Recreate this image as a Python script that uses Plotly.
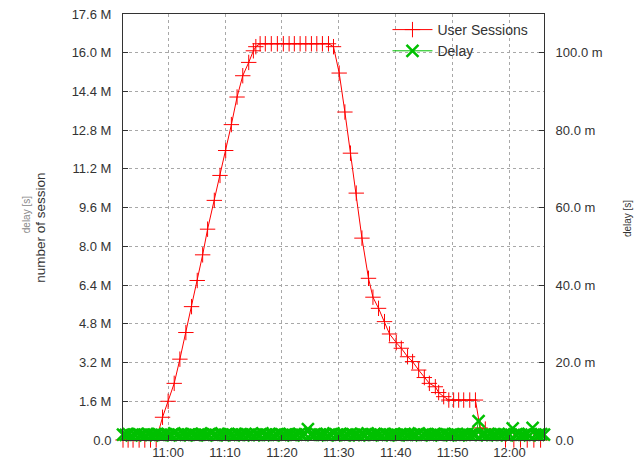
import plotly.graph_objects as go
import pandas as pd

DAY = "2024-01-01 "

# ---- User Sessions (time of day, value in millions) ----
session_times = [
    "10:52:04", "10:52:58", "10:53:50", "10:54:54", "10:55:54", "10:56:54", "10:57:54",
    "10:59:01", "11:00:00", "11:01:04", "11:02:04", "11:03:07", "11:04:07", "11:05:07",
    "11:06:04", "11:06:56", "11:08:07", "11:09:07", "11:10:07", "11:11:07", "11:12:07",
    "11:13:07", "11:14:10", "11:14:59", "11:15:25", "11:16:10",
    "11:17:05", "11:18:08", "11:19:12", "11:20:15", "11:21:16", "11:22:11", "11:23:12",
    "11:24:12", "11:25:11", "11:26:08", "11:27:07", "11:28:11",
    "11:29:04", "11:30:04", "11:31:04", "11:32:03", "11:33:04", "11:34:04", "11:35:13",
    "11:36:00", "11:36:59", "11:38:02", "11:38:55", "11:40:06", "11:40:59", "11:42:05",
    "11:42:58", "11:44:02", "11:45:02", "11:45:55", "11:46:58", "11:47:33", "11:48:26",
    "11:49:20", "11:50:11", "11:51:04", "11:51:57", "11:53:01", "11:54:01",
    "11:54:50", "11:55:45",
    "11:59:18", "12:00:46", "12:01:56", "12:03:07", "12:04:17", "12:05:28",
]
session_values_m = [
    0, 0, 0, 0, 0, 0, 0,
    0.94, 1.60, 2.34, 3.34, 4.44, 5.51, 6.59,
    7.65, 8.71, 9.90, 10.93, 11.96, 13.03, 14.17,
    15.05, 15.60, 16.08, 16.25, 16.37,
    16.37, 16.37, 16.37, 16.37, 16.37, 16.37, 16.37,
    16.37, 16.37, 16.37, 16.37, 16.37,
    16.25, 15.16, 13.55, 11.85, 10.20, 8.34, 6.68,
    5.90, 5.44, 4.89, 4.38, 4.02, 3.79, 3.44,
    3.24, 2.89, 2.58, 2.34, 2.20, 1.96, 1.79,
    1.65, 1.65, 1.65, 1.65, 1.65, 1.65,
    0.50, 0.45,
    0, 0, 0, 0, 0, 0,
]

# ---- Delay (sampled every 30 s from 10:52:04, value in milliseconds) ----
delay_start = "10:52:04"
delay_step_s = 30
delay_values_ms = [
    1.4, 1.3, 1.5, 1.2, 1.4, 1.6, 1.3, 1.4, 1.2, 1.5,
    1.3, 1.4, 1.6, 1.3, 1.2, 1.5, 1.4, 1.3, 1.7, 1.4,
    1.2, 1.5, 1.3, 1.4, 1.6, 1.3, 1.2, 1.4, 1.5, 1.3,
    1.4, 1.7, 1.3, 1.2, 1.5, 1.4, 1.3, 1.6, 1.4, 1.2,
    1.5, 1.3, 1.4, 1.6, 1.3, 1.5, 1.2, 1.4, 1.3, 1.7,
    1.4, 1.3, 1.5, 1.2, 1.4, 1.6, 1.3, 1.4, 1.5, 1.3,
    1.2, 1.4, 1.6, 1.3, 1.5, 2.8, 1.4, 1.3, 1.6, 1.4,
    1.3, 1.5, 1.2, 1.4, 1.7, 1.3, 1.4, 1.5, 1.2, 1.4,
    1.6, 1.3, 1.4, 1.2, 1.5, 1.3, 1.7, 1.4, 1.3, 1.5,
    1.4, 1.2, 1.6, 1.3, 1.4, 1.5, 1.3, 1.2, 1.4, 1.6,
    1.3, 1.5, 1.4, 1.3, 1.7, 1.2, 1.4, 1.5, 1.3, 1.4,
    1.5, 1.3, 1.2, 1.6, 1.4, 1.3, 1.5, 1.4, 1.2, 1.3,
    1.4, 1.6, 1.3, 1.5, 1.4, 4.9, 1.3, 1.4, 1.2, 1.5,
    1.3, 1.4, 1.6, 1.3, 1.5, 1.2, 1.4, 3.0, 1.3, 1.6,
    1.4, 1.3, 1.5, 1.2, 3.1, 1.4, 1.3, 1.5, 1.4,
]

# ---- Axis ticks ----
x_tick_labels = ["11:00", "11:10", "11:20", "11:30", "11:40", "11:50", "12:00"]
x_range = ["10:52:04", "12:06:04"]
left_tick_vals_m = [0, 1.6, 3.2, 4.8, 6.4, 8.0, 9.6, 11.2, 12.8, 14.4, 16.0, 17.6]
left_tick_text = ["0.0", "1.6 M", "3.2 M", "4.8 M", "6.4 M", "8.0 M", "9.6 M",
                  "11.2 M", "12.8 M", "14.4 M", "16.0 M", "17.6 M"]
right_tick_vals_ms = [0, 20, 40, 60, 80, 100]
right_tick_text = ["0.0", "20.0 m", "40.0 m", "60.0 m", "80.0 m", "100.0 m"]
right_max_ms = 110

FONT = "Liberation Sans, Arial, Helvetica, sans-serif"
AXIS_COLOR = "#333333"
GRID_COLOR = "#a8a8a8"

s_x = pd.to_datetime([DAY + t for t in session_times])
s_y = [v * 1e6 for v in session_values_m]
d_x = pd.date_range(DAY + delay_start, periods=len(delay_values_ms), freq=f"{delay_step_s}s")
d_y = [v / 1000 for v in delay_values_ms]

fig = go.Figure()
fig.add_trace(go.Scatter(
    x=s_x, y=s_y, name="User Sessions", mode="lines+markers",
    line=dict(color="#ff0000", width=1),
    marker=dict(symbol="cross-thin", size=11, color="#ff0000",
                line=dict(color="#ff0000", width=1)),
    cliponaxis=False,
))
fig.add_trace(go.Scatter(
    x=d_x, y=d_y, name="Delay", mode="lines+markers", yaxis="y2",
    line=dict(color="#00c000", width=1),
    marker=dict(symbol="x-thin", size=12, color="#00c000",
                line=dict(color="#00c000", width=2.5)),
    cliponaxis=False,
))

fig.update_layout(
    width=634, height=456,
    margin=dict(l=115, r=98, t=6, b=24, autoexpand=False),
    paper_bgcolor="white", plot_bgcolor="white",
    font=dict(family=FONT, size=13, color=AXIS_COLOR),
    showlegend=True,
    legend=dict(x=0.975, y=1.0, xanchor="right", yanchor="top",
                bgcolor="rgba(0,0,0,0)", font=dict(size=14, color="#333333"),
                tracegroupgap=0, itemwidth=40),
    xaxis=dict(
        type="date", range=[DAY + x_range[0], DAY + x_range[1]],
        tickvals=[DAY + t for t in x_tick_labels], ticktext=x_tick_labels,
        showgrid=True, gridcolor=GRID_COLOR, griddash="dot", gridwidth=1,
        showline=True, linecolor=AXIS_COLOR, linewidth=1, mirror=True,
        ticks="inside", ticklen=5, tickcolor=AXIS_COLOR, zeroline=False,
        tickfont=dict(size=13), automargin=False, ticklabeloverflow="allow",
    ),
    yaxis=dict(
        range=[0, 17.6e6],
        tickvals=[v * 1e6 for v in left_tick_vals_m], ticktext=left_tick_text,
        showgrid=True, gridcolor=GRID_COLOR, griddash="dot", gridwidth=1,
        showline=True, linecolor=AXIS_COLOR, linewidth=1, mirror=True,
        ticks="inside", ticklen=5, tickcolor=AXIS_COLOR, zeroline=False,
        ticklabelstandoff=8, tickfont=dict(size=13), automargin=False,
        ticklabeloverflow="allow",
    ),
    yaxis2=dict(
        overlaying="y", side="right", range=[0, right_max_ms / 1000],
        tickvals=[v / 1000 for v in right_tick_vals_ms], ticktext=right_tick_text,
        showgrid=False, showline=True, linecolor=AXIS_COLOR, linewidth=1,
        ticks="inside", ticklen=5, tickcolor=AXIS_COLOR, zeroline=False,
        ticklabelstandoff=8, tickfont=dict(size=13), automargin=False,
        ticklabeloverflow="allow",
    ),
    annotations=[
        dict(text="number of session", xref="paper", yref="paper",
             x=-0.195, y=0.498, textangle=-90, showarrow=False,
             xanchor="center", yanchor="middle",
             font=dict(size=13.5, color="#333333")),
        dict(text="delay [s]", xref="paper", yref="paper",
             x=-0.23, y=0.528, textangle=-90, showarrow=False,
             xanchor="center", yanchor="middle",
             font=dict(size=10, color="#888888")),
        dict(text="delay [s]", xref="paper", yref="paper",
             x=1.2, y=0.519, textangle=-90, showarrow=False,
             xanchor="center", yanchor="middle",
             font=dict(size=10, color="#333333")),
    ],
)

fig.write_html("out.html")
